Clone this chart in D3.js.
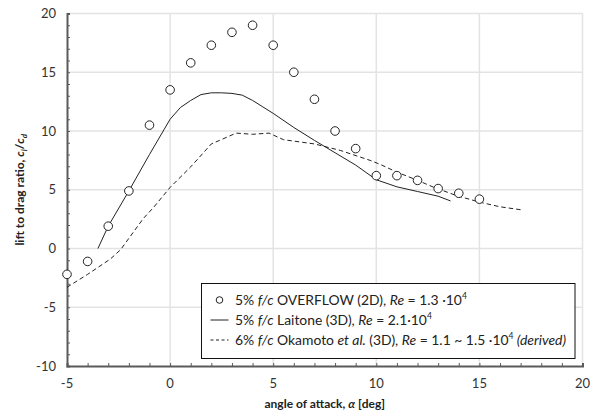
<!DOCTYPE html>
<html><head><meta charset="utf-8">
<script src="https://cdn.jsdelivr.net/npm/d3@7"></script>
<style>body{margin:0;background:#fff}svg{display:block}</style>
</head><body>
<script>
// ---- data ----
const overflowAlpha = [-5,-4,-3,-2,-1,0,1,2,3,4,5,6,7,8,9,10,11,12,13,14,15];
const overflowLD    = [-2.2,-1.1,1.9,4.9,10.5,13.5,15.8,17.3,18.4,19.0,17.3,15.0,12.7,10.0,8.5,6.2,6.2,5.8,5.1,4.7,4.2];
const laitoneAlpha  = [-3.5,-3,-2,-1,-0.3,0,0.5,1,1.5,2,2.5,3,3.5,4,4.5,5,6,7,8,9,10,11,12,13,13.6];
const laitoneLD     = [0,1.9,4.9,8.0,10.1,11.0,12.0,12.6,13.1,13.25,13.25,13.2,13.05,12.6,12.05,11.5,10.3,9.2,8.15,7.1,5.85,5.25,4.85,4.45,4.05];
const okamotoAlpha  = [-5,-4,-2.9,-2.4,-1.3,-0.8,0,1,2,2.4,3.2,4,4.8,5.5,7,8.25,9.7,10.2,11,12,12.8,13.9,15,16,17];
const okamotoLD     = [-3.3,-2.2,-0.9,-0.1,2.55,3.5,5.2,6.95,8.9,9.2,9.82,9.72,9.82,9.26,8.9,8.35,7.5,7.15,6.5,5.8,5.2,4.5,3.95,3.55,3.3];
const xTicks = [-5,0,5,10,15,20];
const yTicks = [-10,-5,0,5,10,15,20];

const W = 599, H = 413;
const m = {l:67, r:599-582.5, t:13.5, b:413-366};
const FONT = "Lato, 'Open Sans', sans-serif";
const svg = d3.select("body").append("svg").attr("width",W).attr("height",H)
  .style("font-family",FONT);
const x = d3.scaleLinear().domain([-5,20]).range([m.l, W-m.r]);
const y = d3.scaleLinear().domain([-10,20]).range([H-m.b, m.t]);

// grid
const grid = svg.append("g").attr("stroke","#e3e3e3").attr("stroke-width",1.5);
xTicks.filter(d=>d>-5).forEach(d=>grid.append("line").attr("x1",x(d)).attr("x2",x(d)).attr("y1",y(-10)).attr("y2",y(20)));
yTicks.filter(d=>d>-10).forEach(d=>grid.append("line").attr("x1",x(-5)).attr("x2",x(20)).attr("y1",y(d)).attr("y2",y(d)));

// axes
const ax = svg.append("g").attr("transform",`translate(0,${y(-10)})`)
  .call(d3.axisBottom(x).tickValues(d3.range(-5,21,1)).tickSize(-3).tickFormat(""));
const ay = svg.append("g").attr("transform",`translate(${x(-5)},0)`)
  .call(d3.axisLeft(y).tickValues(d3.range(-10,21,1)).tickSize(-3).tickFormat(""));
[ax,ay].forEach(g=>{
  g.select(".domain").attr("stroke","#5a5a5a").attr("stroke-width",2);
  g.selectAll(".tick line").attr("stroke","#5a5a5a").attr("stroke-width",1);
});
svg.append("g").selectAll("text").data(xTicks).join("text")
  .attr("x",d=>x(d)).attr("y",388).attr("text-anchor","middle")
  .attr("font-size",13).attr("fill","#333").text(d=>d);
svg.append("g").selectAll("text").data(yTicks).join("text")
  .attr("x",56).attr("y",d=>y(d)+4.5).attr("text-anchor","end")
  .attr("font-size",13).attr("fill","#333").text(d=>d);

// titles
const xt = svg.append("text").attr("x",(x(-5)+x(20))/2).attr("y",408).attr("text-anchor","middle")
  .attr("font-size",12).attr("font-weight","bold").attr("fill","#222");
xt.append("tspan").text("angle of attack, ");
xt.append("tspan").attr("font-style","italic").text("α");
xt.append("tspan").text(" [deg]");
const yt = svg.append("text").attr("transform",`translate(24,${(y(-10)+y(20))/2}) rotate(-90)`)
  .attr("text-anchor","middle").attr("font-size",12).attr("font-weight","bold").attr("fill","#222");
yt.append("tspan").text("lift to drag ratio, ");
yt.append("tspan").attr("font-style","italic").text("c");
yt.append("tspan").attr("font-style","italic").attr("font-size",8).attr("dy",3).text("l");
yt.append("tspan").attr("dy",-3).text("/");
yt.append("tspan").attr("font-style","italic").text("c");
yt.append("tspan").attr("font-style","italic").attr("font-size",8).attr("dy",3).text("d");

// lines
const line = d3.line().x(d=>x(d[0])).y(d=>y(d[1]));
svg.append("path").datum(d3.zip(laitoneAlpha,laitoneLD)).attr("d",line)
  .attr("fill","none").attr("stroke","#222").attr("stroke-width",1);
svg.append("path").datum(d3.zip(okamotoAlpha,okamotoLD)).attr("d",line)
  .attr("fill","none").attr("stroke","#222").attr("stroke-width",1).attr("stroke-dasharray","4.5,3");
svg.append("g").selectAll("circle").data(d3.zip(overflowAlpha,overflowLD)).join("circle")
  .attr("cx",d=>x(d[0])).attr("cy",d=>y(d[1])).attr("r",4.3)
  .attr("fill","#fff").attr("stroke","#222").attr("stroke-width",1);

// legend
const lg = svg.append("g");
lg.append("rect").attr("x",201.5).attr("y",283.5).attr("width",373.5).attr("height",75)
  .attr("fill","#fff").attr("stroke","#111").attr("stroke-width",1);
const rows = [
  {type:"circle", parts:[["5% ",""],["f/c","i"],[" OVERFLOW (2D), ",""],["Re","i"],[" = 1.3 ·10",""],["4","s"]]},
  {type:"solid", parts:[["5% ",""],["f/c","i"],[" Laitone (3D), ",""],["Re","i"],[" = 2.1·10",""],["4","s"]]},
  {type:"dash", parts:[["6% ",""],["f/c","i"],[" Okamoto ",""],["et al.","i"],[" (3D), ",""],["Re","i"],[" = 1.1 ~ 1.5 ·10",""],["4","s"],[" (derived)","i"]]}
];
rows.forEach((r,i)=>{
  const cy = 300 + i*20;
  if(r.type==="circle") lg.append("circle").attr("cx",219.5).attr("cy",cy).attr("r",3.3)
    .attr("fill","#fff").attr("stroke","#222");
  else lg.append("line").attr("x1",210.5).attr("x2",228.5).attr("y1",cy).attr("y2",cy)
    .attr("stroke","#222").attr("stroke-dasharray",r.type==="dash"?"3,2.5":null);
  const t = lg.append("text").attr("x",235).attr("y",cy+4.8).attr("font-size",13.9).attr("fill","#222");
  r.parts.forEach(([s,f],k)=>{
    const ts = t.append("tspan").text(s);
    if(f==="i") ts.attr("font-style","italic");
    if(f==="s") ts.attr("font-size",8.5).attr("dy",-5.5);
    else if(k>0 && r.parts[k-1][1]==="s") ts.attr("dy",5.5);
  });
});
</script>
</body></html>
